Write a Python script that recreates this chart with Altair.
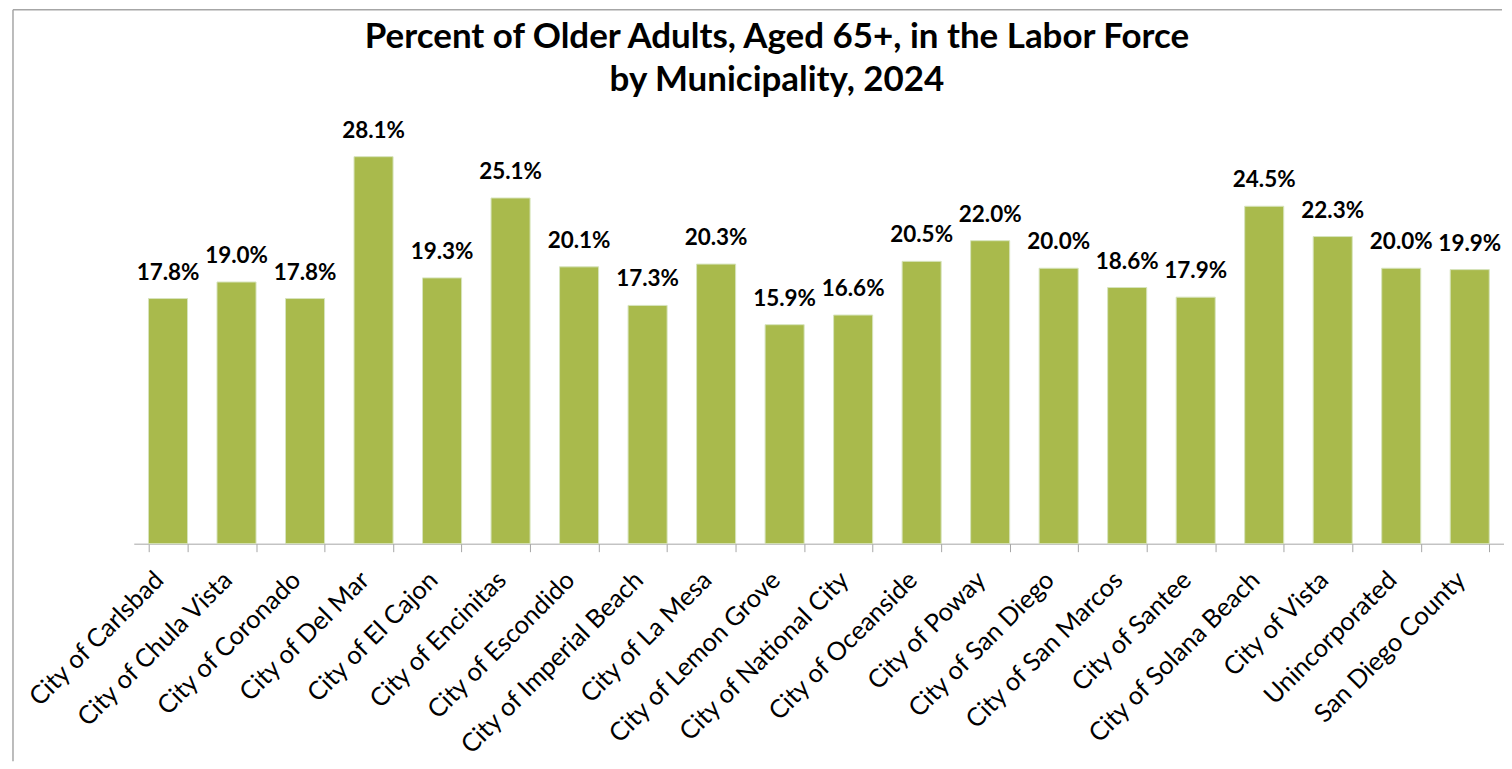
import altair as alt
import pandas as pd

categories = [
    "City of Carlsbad", "City of Chula Vista", "City of Coronado", "City of Del Mar",
    "City of El Cajon", "City of Encinitas", "City of Escondido", "City of Imperial Beach",
    "City of La Mesa", "City of Lemon Grove", "City of National City", "City of Oceanside",
    "City of Poway", "City of San Diego", "City of San Marcos", "City of Santee",
    "City of Solana Beach", "City of Vista", "Unincorporated", "San Diego County",
]
values = [17.8, 19.0, 17.8, 28.1, 19.3, 25.1, 20.1, 17.3, 20.3, 15.9,
          16.6, 20.5, 22.0, 20.0, 18.6, 17.9, 24.5, 22.3, 20.0, 19.9]

df = pd.DataFrame({"city": categories, "pct": values})
df["label"] = [f"{v:.1f}%" for v in values]

FONT = "Lato"
BAR = "#A9BA4C"

x_enc = alt.X(
    "city:N", sort=categories, title=None,
    scale=alt.Scale(paddingInner=0.43, paddingOuter=0.215),
    axis=alt.Axis(
        labelAngle=-45, labelAlign="right", labelBaseline="middle",
        labelFont=FONT, labelFontSize=25.5, labelColor="#000000",
        labelPadding=24, labelOffset=-9,
        tickBand="extent", tickSize=8, tickColor="#A6A6A6",
        domainColor="#A6A6A6", labelLimit=400, labelOverlap=False,
    ),
)
y_enc = alt.Y("pct:Q", axis=None, scale=alt.Scale(domain=[0, 30], nice=False))

bars = alt.Chart(df).mark_bar(color=BAR, stroke="#D7E4BD", strokeWidth=1).encode(x=x_enc, y=y_enc)
labels = alt.Chart(df).mark_text(
    font=FONT, fontSize=22.5, fontWeight="bold", color="#000000", baseline="bottom", dy=-14
).encode(x=alt.X("city:N", sort=categories), y="pct:Q", text="label:N")

frame = alt.Data(values=[{}])
left_border = alt.Chart(frame).mark_rule(color="#A6A6A6", strokeWidth=1.5).encode(
    x=alt.value(-121), y=alt.value(-121), y2=alt.value(632)
)
top_border = alt.Chart(frame).mark_rule(color="#A6A6A6", strokeWidth=1.5).encode(
    x=alt.value(-121), x2=alt.value(1371), y=alt.value(-121)
)

chart = (
    alt.layer(bars, labels, left_border, top_border)
    .properties(
        width=1373, height=414,
        padding={"left": 4, "top": 0, "right": 0, "bottom": 0},
        view=alt.ViewBackground(stroke="transparent", strokeWidth=0),
        title=alt.TitleParams(
            ["Percent of Older Adults, Aged 65+, in the Labor Force", "by Municipality, 2024"],
            font=FONT, fontSize=35, fontWeight="bold", color="#000000",
            lineHeight=43, anchor="middle", frame="group", dx=-42, offset=-89,
        ),
    )
    .configure_view(stroke="transparent", strokeWidth=0)
    .configure(background="#FFFFFF")
)

chart.save("out.html", embed_options={"renderer": "svg", "actions": False})
